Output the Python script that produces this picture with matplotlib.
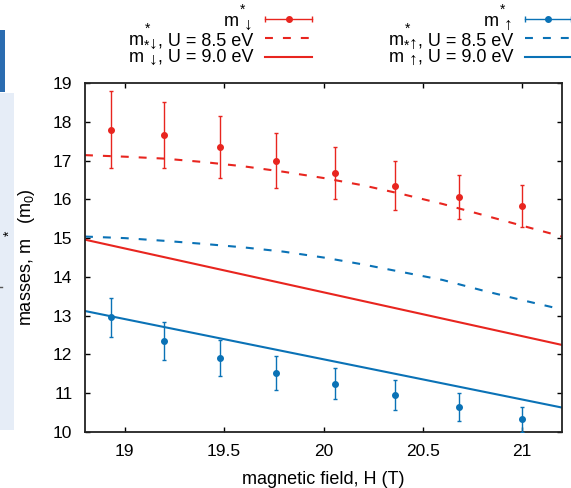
import matplotlib
matplotlib.use("Agg")
import matplotlib.pyplot as plt
from matplotlib.patches import Rectangle

plt.rcParams['font.family'] = ['Liberation Sans', 'DejaVu Sans']
plt.rcParams['mathtext.fontset'] = 'custom'
plt.rcParams['mathtext.rm'] = 'Liberation Sans'
plt.rcParams['mathtext.it'] = 'Liberation Sans:italic'

# measured points (H in T, masses in m0)
H = [18.93, 19.20, 19.48, 19.76, 20.06, 20.36, 20.68, 21.00]
m_down = [17.80, 17.65, 17.35, 17.00, 16.68, 16.35, 16.06, 15.83]
err_down = [1.00, 0.85, 0.80, 0.72, 0.67, 0.63, 0.58, 0.55]
m_up = [12.96, 12.34, 11.90, 11.53, 11.24, 10.95, 10.64, 10.33]
err_up = [0.50, 0.49, 0.46, 0.44, 0.40, 0.38, 0.36, 0.32]

# calculated curves
H_fit = [18.8, 19.0, 19.2, 19.4, 19.6, 19.8, 20.0, 20.2, 20.4, 20.6, 20.8, 21.0, 21.2]
down_85 = [17.14, 17.10, 17.05, 16.96, 16.85, 16.71, 16.55, 16.36, 16.13, 15.88, 15.60, 15.32, 15.04]
up_85 = [15.04, 15.00, 14.93, 14.85, 14.76, 14.65, 14.50, 14.32, 14.12, 13.92, 13.65, 13.40, 13.16]
H_lin = [18.8, 21.2]
down_90 = [14.96, 12.245]
up_90 = [13.12, 10.63]

xticks = [19, 19.5, 20, 20.5, 21]
xtick_labels = ["19", "19.5", "20", "20.5", "21"]
yticks = [10, 11, 12, 13, 14, 15, 16, 17, 18, 19]

red = '#e8251f'
blue = '#0a72b6'
dash = (0, (3.8, 4.8))

fig = plt.figure(figsize=(5.71, 4.88), dpi=100)
ax = fig.add_axes([85/571, 1-432/488, (562-85)/571, (432-83)/488])

ax.plot(H_fit, down_85, color=red, lw=1.5, ls=dash)
ax.plot(H_fit, up_85, color=blue, lw=1.5, ls=dash)
ax.plot(H_lin, down_90, color=red, lw=1.5)
ax.plot(H_lin, up_90, color=blue, lw=1.5)
ax.errorbar(H, m_down, yerr=err_down, fmt='o', color=red, ms=4,
            elinewidth=1, capsize=1.5, capthick=1, zorder=3)
ax.errorbar(H, m_up, yerr=err_up, fmt='o', color=blue, ms=4,
            elinewidth=1, capsize=1.5, capthick=1, zorder=3)

ax.set_xlim(18.8, 21.2)
ax.set_ylim(10, 19)
ax.set_xticks(xticks)
ax.set_xticklabels(xtick_labels)
ax.set_yticks(yticks)
ax.tick_params(direction='in', top=True, right=True, length=3.5, width=1,
               labelsize=12.5, pad=9)
for s in ax.spines.values():
    s.set_linewidth(1.3)
    s.set_color('#222222')
ax.set_xlabel('magnetic field, H (T)', fontsize=13, labelpad=8)
ax.set_ylabel('masses, m   (m$_{\\mathrm{0}}$)', fontsize=13)
ax.yaxis.set_label_coords((37-85)/477, 0.5)

# overlay in pixel coordinates for page bits and the gnuplot-like key
deco = fig.add_axes([0, 0, 1, 1], zorder=5)
deco.set_xlim(0, 571)
deco.set_ylim(488, 0)
deco.axis('off')
deco.patch.set_visible(False)

deco.add_patch(Rectangle((0, 30), 5, 62, color='#2b6cb0', lw=0))
deco.add_patch(Rectangle((0, 93), 14, 337, color='#e6edf7', lw=0))
deco.plot([0, 2], [287, 287], color='#555555', lw=1)
deco.text(10, 233, '*', rotation=90, fontsize=10, ha='center', va='center')

rend = fig.canvas.get_renderer()


def key_label(x_right, y_base, arrow, rest):
    left = x_right
    if rest:
        t = deco.text(x_right, y_base, rest, ha='right', va='baseline', fontsize=13)
        left = x_right - t.get_window_extent(rend).width
    deco.text(left - 0.5, y_base - 1, arrow, ha='right', va='center', fontsize=12.5)
    deco.text(left - 10.5, y_base - 16, '*', ha='center', va='center', fontsize=10)
    deco.text(left - 14, y_base, 'm', ha='right', va='baseline', fontsize=13)


rows_y = [19.3, 38.3, 56.7]
base_y = [26, 45, 61.7]
for x_right, x0, x1, arrow, col in [(253, 265, 312, '\u2193', red),
                                   (513, 525, 571, '\u2191', blue)]:
    key_label(x_right, base_y[0], arrow, '')
    key_label(x_right, base_y[1], arrow, ', U = 8.5 eV')
    key_label(x_right, base_y[2], arrow, ', U = 9.0 eV')
    deco.plot([x0, x1], [rows_y[0]] * 2, color=col, lw=1)
    deco.plot([x0, x1], [rows_y[0]] * 2, color=col, ls='none', marker='|', ms=4, mew=1)
    deco.plot([(x0 + x1) / 2], [rows_y[0]], color=col, marker='o', ms=4)
    deco.plot([x0, x1], [rows_y[1]] * 2, color=col, lw=1.5, ls=dash)
    deco.plot([x0, x1], [rows_y[2]] * 2, color=col, lw=1.5)

fig.savefig('out.png', dpi=100)
